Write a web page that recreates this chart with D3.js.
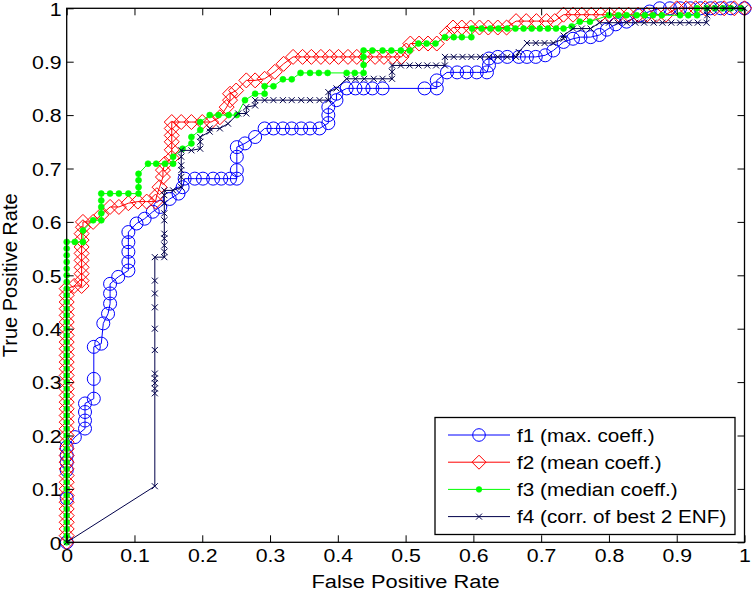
<!DOCTYPE html>
<html><head><meta charset="utf-8">
<script src="https://cdn.jsdelivr.net/npm/d3@7"></script>
<style>html,body{margin:0;padding:0;background:#fff;}svg{display:block;}</style>
</head><body>
<svg id="chart" width="752" height="592"></svg>
<script>
// ---------- data ----------
const tickValues = [0, 0.1, 0.2, 0.3, 0.4, 0.5, 0.6, 0.7, 0.8, 0.9, 1];
const tickLabels = ["0", "0.1", "0.2", "0.3", "0.4", "0.5", "0.6", "0.7", "0.8", "0.9", "1"];
const xLabel = "False Positive Rate";
const yLabel = "True Positive Rate";
const seriesNames = ["f1 (max. coeff.)", "f2 (mean coeff.)", "f3 (median coeff.)", "f4 (corr. of best 2 ENF)"];

// [false positive rate, true positive rate]
const f1 = [[0,0],[0,0.082],[0,0.135],[0,0.15],[0,0.163],[0,0.178],[0.012,0.197],[0.027,0.213],[0.027,0.228],[0.027,0.244],[0.027,0.26],[0.04,0.269],[0.04,0.306],[0.04,0.366],[0.051,0.372],[0.054,0.41],[0.061,0.428],[0.064,0.447],[0.064,0.466],[0.064,0.484],[0.076,0.497],[0.091,0.509],[0.091,0.525],[0.091,0.544],[0.091,0.562],[0.091,0.581],[0.103,0.597],[0.115,0.606],[0.127,0.619],[0.138,0.628],[0.152,0.643],[0.165,0.653],[0.171,0.665],[0.174,0.681],[0.189,0.681],[0.201,0.681],[0.216,0.681],[0.228,0.681],[0.241,0.681],[0.251,0.681],[0.251,0.697],[0.251,0.722],[0.251,0.74],[0.263,0.747],[0.278,0.759],[0.292,0.775],[0.305,0.775],[0.319,0.775],[0.332,0.775],[0.346,0.775],[0.359,0.775],[0.373,0.775],[0.386,0.785],[0.386,0.8],[0.386,0.815],[0.398,0.828],[0.398,0.84],[0.413,0.85],[0.426,0.85],[0.438,0.85],[0.451,0.85],[0.466,0.85],[0.528,0.85],[0.546,0.85],[0.546,0.865],[0.561,0.88],[0.576,0.88],[0.59,0.88],[0.605,0.88],[0.62,0.88],[0.623,0.893],[0.623,0.906],[0.636,0.909],[0.65,0.909],[0.667,0.909],[0.679,0.909],[0.692,0.909],[0.706,0.912],[0.718,0.921],[0.733,0.937],[0.747,0.943],[0.758,0.946],[0.773,0.946],[0.786,0.95],[0.797,0.96],[0.81,0.97],[0.826,0.975],[0.846,0.987],[0.86,0.994],[0.875,1],[0.89,1],[0.905,1],[0.92,1],[0.935,1],[0.95,1],[0.965,1],[0.98,1],[1,1]];

const f2 = [[0,0],[0,0.0125],[0,0.025],[0,0.0375],[0,0.05],[0,0.0625],[0,0.075],[0,0.0875],[0,0.1],[0,0.1125],[0,0.125],[0,0.1375],[0,0.15],[0,0.1625],[0,0.175],[0,0.1875],[0,0.2],[0,0.2125],[0,0.225],[0,0.2375],[0,0.25],[0,0.2625],[0,0.275],[0,0.2875],[0,0.3],[0,0.3125],[0,0.325],[0,0.3375],[0,0.35],[0,0.3625],[0,0.375],[0,0.3875],[0,0.4],[0,0.4125],[0,0.425],[0,0.4375],[0,0.45],[0,0.4625],[0,0.475],[0.011,0.48],[0.022,0.48],[0.022,0.49],[0.022,0.503],[0.022,0.515],[0.022,0.528],[0.022,0.541],[0.022,0.553],[0.022,0.566],[0.022,0.578],[0.024,0.59],[0.024,0.6],[0.039,0.6],[0.051,0.613],[0.064,0.628],[0.077,0.628],[0.091,0.635],[0.105,0.638],[0.118,0.638],[0.131,0.638],[0.133,0.65],[0.137,0.665],[0.142,0.684],[0.142,0.697],[0.145,0.709],[0.155,0.72],[0.155,0.735],[0.155,0.75],[0.155,0.762],[0.155,0.775],[0.155,0.787],[0.169,0.787],[0.184,0.787],[0.2,0.787],[0.213,0.787],[0.226,0.796],[0.236,0.815],[0.241,0.828],[0.241,0.84],[0.25,0.846],[0.265,0.865],[0.278,0.865],[0.292,0.868],[0.307,0.881],[0.32,0.896],[0.334,0.909],[0.348,0.909],[0.361,0.909],[0.375,0.909],[0.388,0.909],[0.401,0.909],[0.415,0.909],[0.428,0.909],[0.441,0.909],[0.455,0.909],[0.468,0.909],[0.481,0.909],[0.494,0.909],[0.501,0.921],[0.507,0.934],[0.52,0.934],[0.533,0.934],[0.546,0.934],[0.561,0.953],[0.57,0.964],[0.583,0.964],[0.596,0.964],[0.609,0.964],[0.622,0.964],[0.636,0.964],[0.649,0.964],[0.663,0.976],[0.678,0.976],[0.693,0.976],[0.708,0.976],[0.72,0.976],[0.733,0.988],[0.747,0.988],[0.76,0.988],[0.774,0.988],[0.788,0.988],[0.801,0.988],[0.815,0.988],[0.829,0.988],[0.843,0.988],[0.856,0.988],[0.87,0.988],[0.884,0.988],[0.9,1],[0.914,1],[0.928,1],[0.942,1],[0.956,1],[0.97,1],[0.985,1],[1,1]];

const f3 = [[0,0],[0,0.0125],[0,0.025],[0,0.0375],[0,0.05],[0,0.0625],[0,0.075],[0,0.0875],[0,0.1],[0,0.1125],[0,0.125],[0,0.1375],[0,0.15],[0,0.1625],[0,0.175],[0,0.1875],[0,0.2],[0,0.2125],[0,0.225],[0,0.2375],[0,0.25],[0,0.2625],[0,0.275],[0,0.2875],[0,0.3],[0,0.3125],[0,0.325],[0,0.3375],[0,0.35],[0,0.3625],[0,0.375],[0,0.3875],[0,0.4],[0,0.4125],[0,0.425],[0,0.4375],[0,0.45],[0,0.4625],[0,0.475],[0,0.4875],[0,0.5],[0,0.5125],[0,0.525],[0,0.5375],[0,0.55],[0,0.5625],[0.012,0.5625],[0.024,0.5625],[0.024,0.584],[0.039,0.603],[0.051,0.603],[0.051,0.616],[0.051,0.628],[0.051,0.64],[0.051,0.653],[0.064,0.653],[0.077,0.653],[0.091,0.653],[0.106,0.653],[0.106,0.665],[0.106,0.678],[0.106,0.69],[0.12,0.709],[0.132,0.709],[0.145,0.709],[0.157,0.709],[0.157,0.722],[0.171,0.737],[0.184,0.747],[0.184,0.759],[0.197,0.772],[0.197,0.787],[0.211,0.8],[0.224,0.8],[0.239,0.8],[0.251,0.8],[0.263,0.828],[0.278,0.84],[0.292,0.84],[0.292,0.854],[0.305,0.854],[0.319,0.867],[0.332,0.867],[0.345,0.879],[0.359,0.879],[0.372,0.879],[0.385,0.879],[0.413,0.879],[0.425,0.879],[0.438,0.879],[0.438,0.894],[0.438,0.909],[0.438,0.921],[0.451,0.921],[0.466,0.921],[0.479,0.921],[0.493,0.921],[0.506,0.921],[0.519,0.934],[0.531,0.934],[0.544,0.934],[0.558,0.946],[0.571,0.946],[0.583,0.946],[0.597,0.946],[0.598,0.962],[0.612,0.962],[0.625,0.962],[0.637,0.962],[0.65,0.962],[0.662,0.962],[0.674,0.962],[0.686,0.962],[0.698,0.962],[0.71,0.962],[0.722,0.962],[0.733,0.962],[0.745,0.966],[0.757,0.975],[0.772,0.975],[0.8,0.987],[0.814,0.987],[0.826,0.987],[0.841,0.987],[0.853,0.987],[0.865,0.987],[0.878,0.987],[0.905,0.987],[0.917,0.987],[0.93,0.987],[0.93,1],[0.944,1],[0.956,1],[0.968,1],[0.98,1],[0.995,1]];

const f4 = [[0,0],[0.13,0.105],[0.13,0.279],[0.13,0.288],[0.13,0.298],[0.13,0.307],[0.13,0.316],[0.13,0.36],[0.13,0.4],[0.13,0.44],[0.13,0.466],[0.13,0.49],[0.13,0.534],[0.144,0.534],[0.144,0.544],[0.144,0.556],[0.144,0.569],[0.144,0.578],[0.144,0.603],[0.144,0.616],[0.144,0.635],[0.144,0.65],[0.144,0.659],[0.157,0.659],[0.169,0.665],[0.169,0.684],[0.169,0.697],[0.169,0.706],[0.169,0.722],[0.169,0.734],[0.184,0.734],[0.197,0.737],[0.197,0.75],[0.197,0.759],[0.211,0.769],[0.211,0.775],[0.226,0.775],[0.238,0.784],[0.253,0.803],[0.265,0.803],[0.265,0.815],[0.278,0.818],[0.278,0.828],[0.292,0.828],[0.305,0.828],[0.319,0.828],[0.332,0.828],[0.346,0.828],[0.359,0.828],[0.373,0.828],[0.386,0.828],[0.386,0.843],[0.398,0.85],[0.413,0.868],[0.426,0.868],[0.439,0.868],[0.453,0.868],[0.466,0.868],[0.48,0.868],[0.48,0.881],[0.48,0.893],[0.493,0.893],[0.506,0.893],[0.519,0.893],[0.532,0.893],[0.545,0.893],[0.558,0.893],[0.558,0.909],[0.571,0.909],[0.584,0.909],[0.597,0.909],[0.61,0.909],[0.623,0.909],[0.636,0.909],[0.65,0.909],[0.663,0.909],[0.667,0.918],[0.679,0.935],[0.692,0.935],[0.705,0.935],[0.718,0.935],[0.733,0.943],[0.733,0.949],[0.747,0.962],[0.76,0.962],[0.773,0.962],[0.786,0.973],[0.8,0.973],[0.813,0.973],[0.826,0.973],[0.839,0.973],[0.852,0.973],[0.866,0.973],[0.879,0.973],[0.892,0.973],[0.905,0.973],[0.918,0.973],[0.931,0.973],[0.944,0.973],[0.945,0.987],[0.945,1],[0.958,1],[0.971,1],[0.984,1],[1,1]];

// ---------- styling ----------
const seriesData = [f1, f2, f3, f4];
const seriesStyle = [
  {color: "#0000ff", marker: "circle"},
  {color: "#ff0000", marker: "diamond"},
  {color: "#00ff00", marker: "dot"},
  {color: "#00004a", marker: "x"}
];
const FONT = "'Liberation Sans', Arial, Helvetica, sans-serif";

const svg = d3.select("#chart");
const x = d3.scaleLinear().domain([0, 1]).range([66.7, 744.5]);
const y = d3.scaleLinear().domain([0, 1]).range([542.3, 8.3]);

function drawMarker(sel, type, color, legend) {
  if (type === "circle") {
    sel.append("circle").attr("r", legend ? 6.3 : 6.5).attr("fill", "none").attr("stroke", color).attr("stroke-width", 1);
  } else if (type === "diamond") {
    const s = legend ? 7 : 7.5;
    sel.append("path").attr("d", `M0,${-s}L${s},0L0,${s}L${-s},0Z`).attr("fill", "none").attr("stroke", color).attr("stroke-width", 1);
  } else if (type === "dot") {
    sel.append("circle").attr("r", legend ? 2.8 : 3).attr("fill", color).attr("stroke", color).attr("stroke-width", 0.6);
  } else if (type === "x") {
    const s = 3;
    sel.append("path").attr("d", `M${-s},${-s}L${s},${s}M${-s},${s}L${s},${-s}`).attr("fill", "none").attr("stroke", color).attr("stroke-width", 1);
  }
}

const line = d3.line().x(d => x(d[0])).y(d => y(d[1]));

// series
seriesData.forEach((data, i) => {
  const st = seriesStyle[i];
  const g = svg.append("g").attr("class", "series");
  g.append("path").datum(data).attr("d", line).attr("fill", "none").attr("stroke", st.color).attr("stroke-width", 1);
  g.selectAll("g.m").data(data).join("g").attr("class", "m")
    .attr("transform", d => `translate(${x(d[0])},${y(d[1])})`)
    .each(function () { drawMarker(d3.select(this), st.marker, st.color, false); });
});

// axes box
svg.append("rect").attr("x", x(0)).attr("y", y(1)).attr("width", x(1) - x(0)).attr("height", y(0) - y(1))
  .attr("fill", "none").attr("stroke", "#000").attr("stroke-width", 1.3);

const fmt = (d) => tickLabels[tickValues.indexOf(d)];
const axB = svg.append("g").attr("transform", `translate(0,${y(0)})`)
  .call(d3.axisBottom(x).tickValues(tickValues).tickFormat(fmt).tickSize(-7));
const axT = svg.append("g").attr("transform", `translate(0,${y(1)})`)
  .call(d3.axisTop(x).tickValues(tickValues).tickFormat("").tickSize(-7));
const axL = svg.append("g").attr("transform", `translate(${x(0)},0)`)
  .call(d3.axisLeft(y).tickValues(tickValues).tickFormat(fmt).tickSize(-7));
const axR = svg.append("g").attr("transform", `translate(${x(1)},0)`)
  .call(d3.axisRight(y).tickValues(tickValues).tickFormat("").tickSize(-7));
[axB, axT, axL, axR].forEach(a => {
  a.select(".domain").remove();
  a.selectAll(".tick line").attr("stroke", "#000").attr("stroke-width", 1);
});
axB.selectAll(".tick text").attr("y", 19.5).attr("dy", null)
  .attr("font-family", FONT).attr("font-size", 19).attr("fill", "#000")
  .attr("transform", "scale(1.12,1)");
axL.selectAll(".tick text").attr("x", -4.5).attr("dy", null).attr("y", 6.8)
  .attr("font-family", FONT).attr("font-size", 19).attr("fill", "#000")
  .attr("transform", "scale(1.12,1)");

// axis labels
svg.append("text").attr("transform", `translate(${(x(0) + x(1)) / 2},587.5) scale(1.15,1)`)
  .attr("text-anchor", "middle").attr("font-family", FONT).attr("font-size", 19).text(xLabel);
svg.append("text").attr("transform", `translate(16.5,${(y(0) + y(1)) / 2}) rotate(-90)`)
  .attr("text-anchor", "middle").attr("font-family", FONT).attr("font-size", 20).text(yLabel);

// legend
const leg = svg.append("g");
leg.append("rect").attr("x", 435).attr("y", 417.5).attr("width", 300).attr("height", 117)
  .attr("fill", "#fff").attr("stroke", "#000").attr("stroke-width", 1.3);
seriesNames.forEach((name, i) => {
  const st = seriesStyle[i];
  const cy = 435 + i * 27.2;
  const row = leg.append("g").attr("transform", `translate(0,${cy})`);
  row.append("line").attr("x1", 448).attr("x2", 510).attr("y1", 0).attr("y2", 0)
    .attr("stroke", st.color).attr("stroke-width", 1);
  drawMarker(row.append("g").attr("transform", "translate(479,0)"), st.marker, st.color, true);
  row.append("text").attr("transform", "translate(517,6.8) scale(1.09,1)")
    .attr("font-family", FONT).attr("font-size", 19).attr("fill", "#000").text(name);
});
</script>
</body></html>
